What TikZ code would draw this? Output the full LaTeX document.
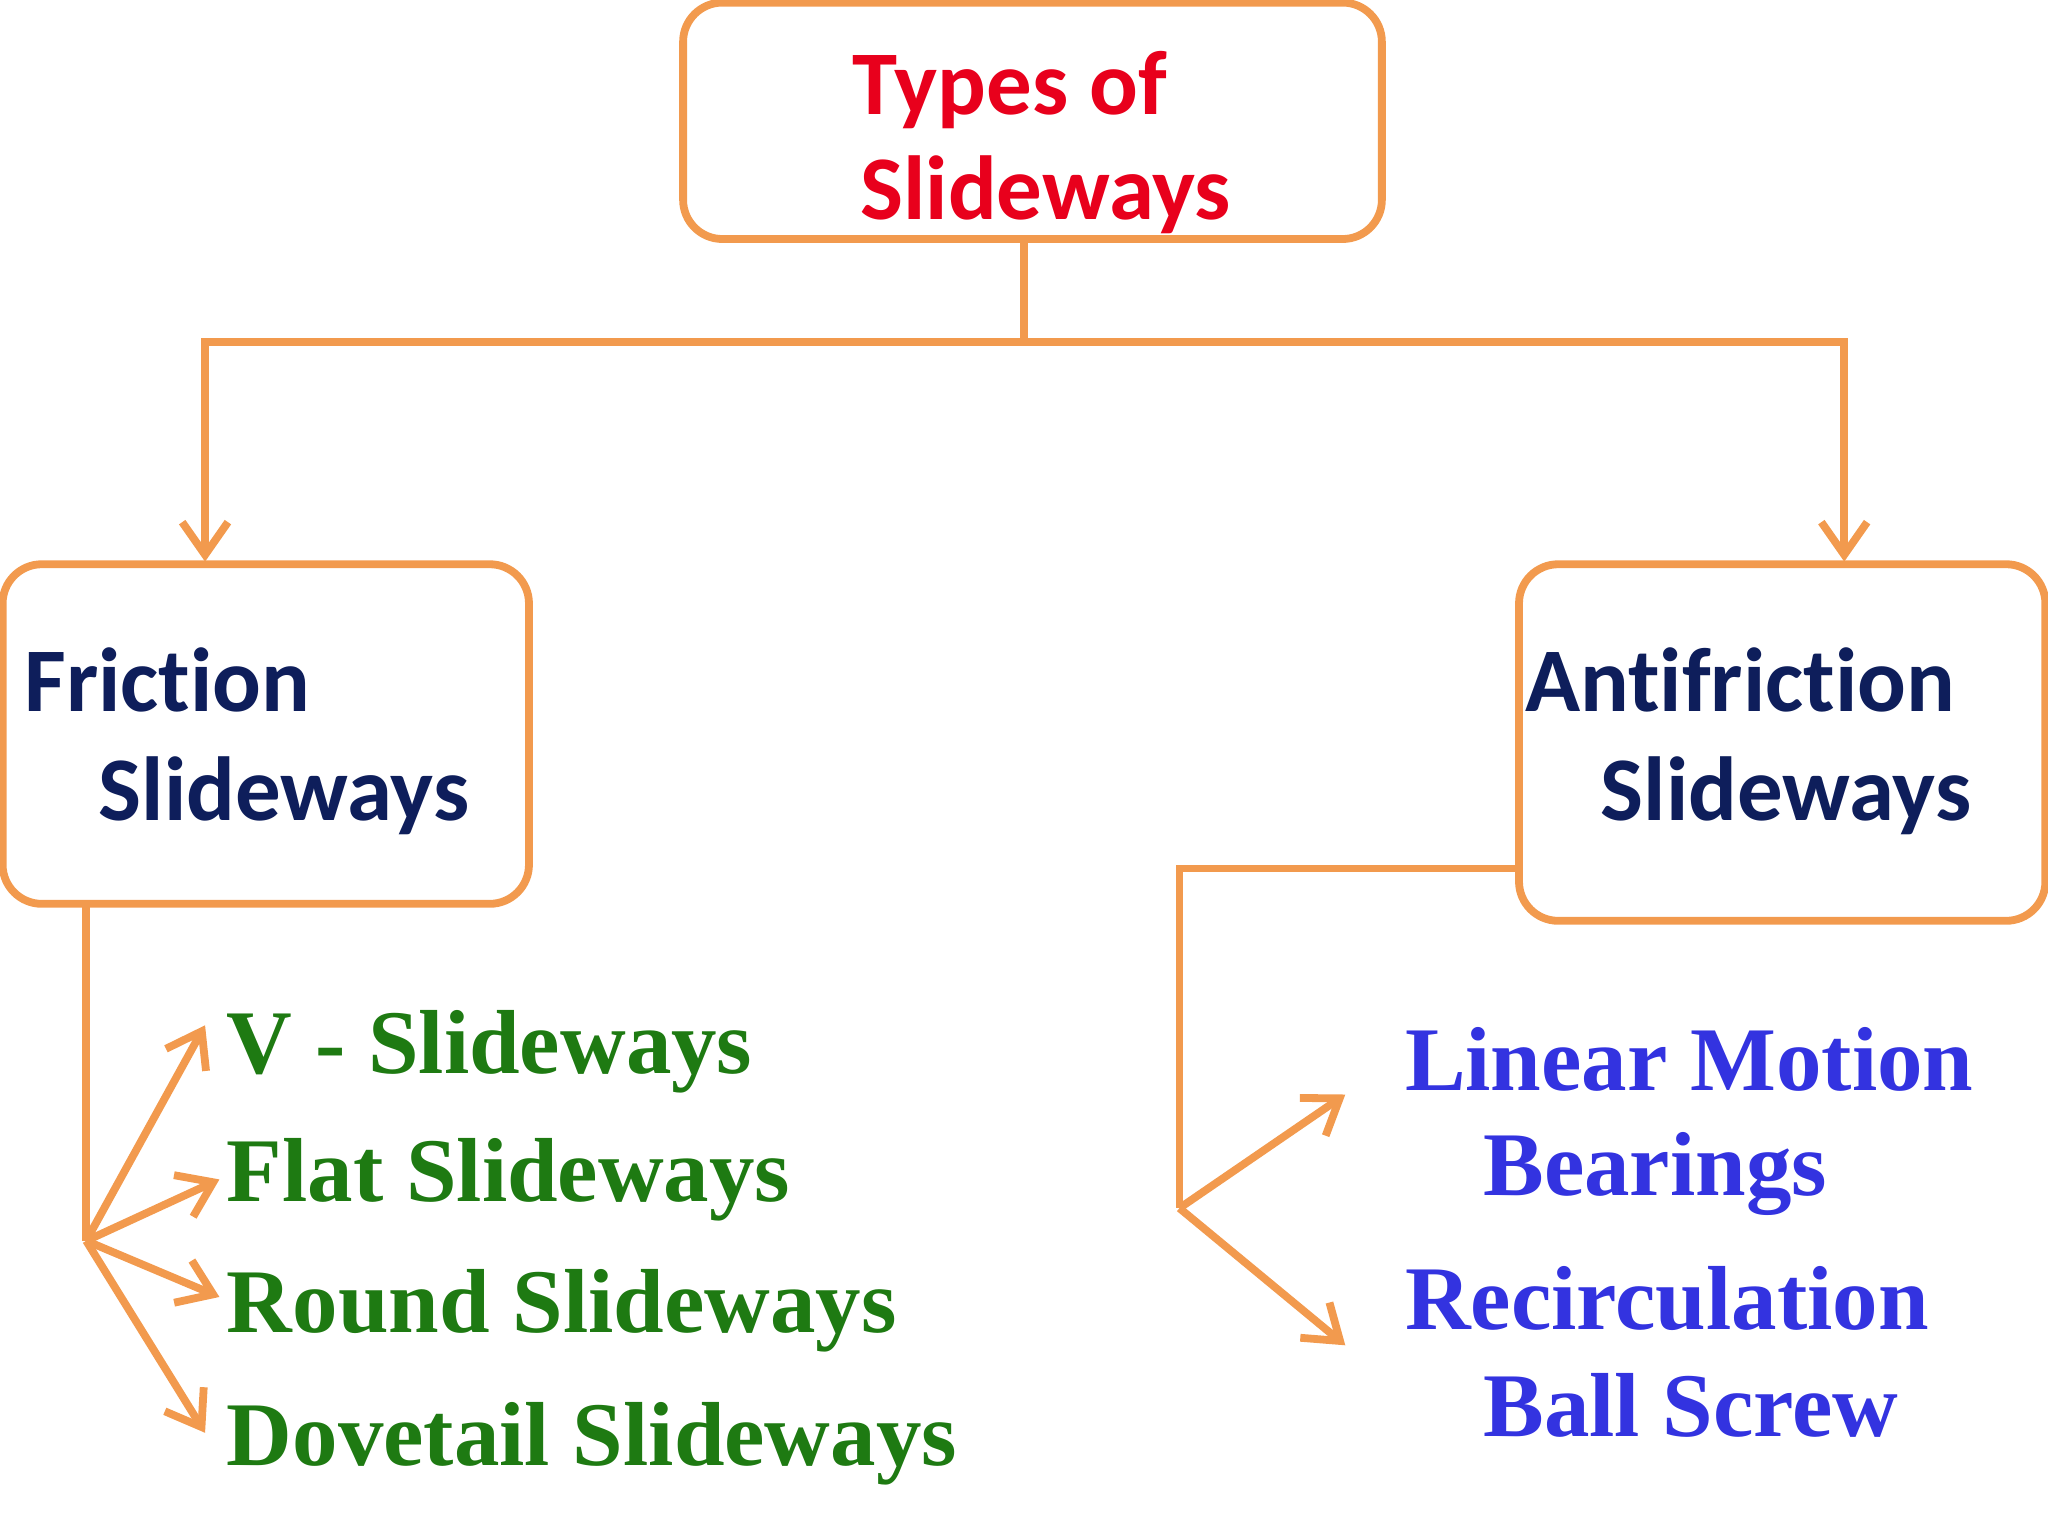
\documentclass[tikz,border=0pt]{standalone}
\usepackage{fontspec}
\setmainfont{Liberation Serif}
\newfontfamily\hd[Ligatures={NoCommon,NoRare,NoContextual}]{Carlito}
\usetikzlibrary{arrows.meta}
\definecolor{org}{HTML}{F29A4E}
\definecolor{rd}{HTML}{E8001C}
\definecolor{nv}{HTML}{0E1E5B}
\definecolor{gr}{HTML}{1E7A12}
\definecolor{bl}{HTML}{3333E0}
\tikzset{
 box/.style={draw=org,line width=1.7pt,rounded corners=0.3cm},
 ln/.style={draw=org,line width=1.7pt},
 arr/.style={ln,-{Straight Barb[length=2.5mm,width=3.5mm,line width=1.7pt]}},
 hdt/.style={anchor=base west,inner sep=0,font=\hd\bfseries\fontsize{19.8}{24}\selectfont},
 it/.style={anchor=base west,inner sep=0,font=\bfseries\fontsize{19.8}{24}\selectfont},
}
\begin{document}
\begin{tikzpicture}[x=0.01cm,y=-0.01cm]
\useasboundingbox (0,0) rectangle (1568,1176);
\draw[box] (523,2) rectangle (1058,183);
\draw[box] (2,432) rectangle (405,692);
\draw[box] (1163,432) rectangle (1566,705);
\node[hdt,text=rd] (t1) at (652,88) {Types of};
\node[hdt,text=rd] (t2) at (658,168) {Slideways};
\node[hdt,text=nv] (f1) at (18,545) {Friction};
\node[hdt,text=nv] (f2) at (75,628) {Slideways};
\node[hdt,text=nv] (a1) at (1167,545) {Antifriction};
\node[hdt,text=nv] (a2) at (1225,628) {Slideways};
\node[it,text=gr] (v) at (173,822) {V - Slideways};
\node[it,text=gr] (fl) at (173,920) {Flat Slideways};
\node[it,text=gr] (ro) at (173,1020) {Round Slideways};
\node[it,text=gr] (dv) at (173,1122) {Dovetail Slideways};
\node[it,text=bl] (l1) at (1075,835) {Linear Motion};
\node[it,text=bl] (l2) at (1135,915) {Bearings};
\node[it,text=bl] (r1) at (1075,1018) {Recirculation};
\node[it,text=bl] (r2) at (1135,1100) {Ball Screw};
\coordinate (top) at (784,183);
\coordinate (j) at (784,262);
\coordinate (jl) at (157,262);
\coordinate (jr) at (1412,262);
\coordinate (lt) at (157,430);
\coordinate (rt) at (1412,430);
\coordinate (ls) at (66,692);
\coordinate (lh) at (66,950);
\coordinate (rs) at (1163,665);
\coordinate (rc) at (903,665);
\coordinate (rh) at (903,925);
\draw[ln] (top) -- (j);
\draw[arr] (j) -- (jl) -- (lt);
\draw[arr] (j) -- (jr) -- (rt);
\draw[ln] (ls) -- (lh);
\draw[arr] (lh) -- (157,785);
\draw[arr] (lh) -- (168,903);
\draw[arr] (lh) -- (168,993);
\draw[arr] (lh) -- (157,1097);
\draw[ln] (rs) -- (rc) -- (rh);
\draw[arr] (rh) -- (1030,838);
\draw[arr] (rh) -- (1030,1030);
\end{tikzpicture}
\end{document}
